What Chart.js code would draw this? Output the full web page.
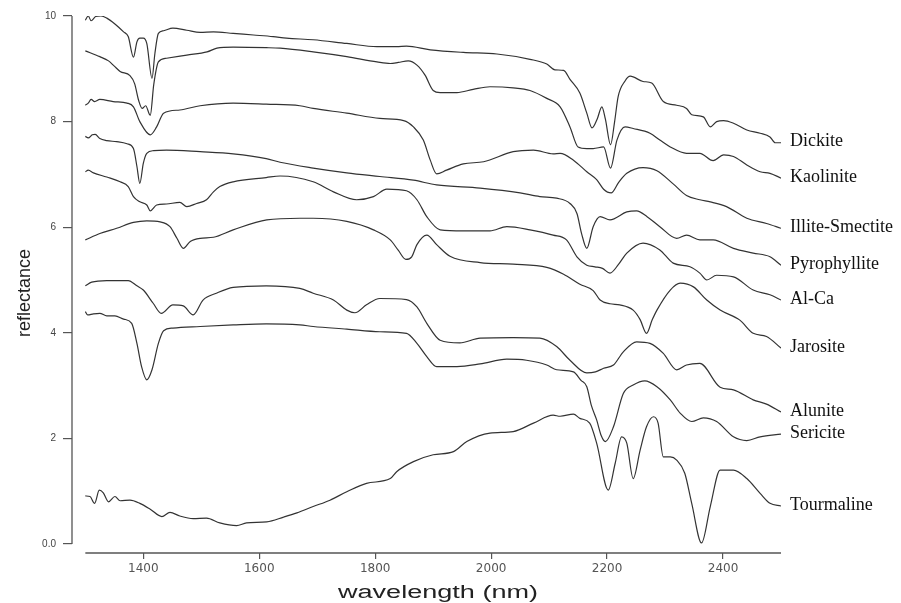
<!DOCTYPE html>
<html>
<head>
<meta charset="utf-8">
<script src="https://cdn.jsdelivr.net/npm/chart.js@4/dist/chart.umd.min.js"></script>
<style>
  html, body { margin: 0; padding: 0; background: #fff; }
  #wrap { width: 901px; height: 603px; }
</style>
</head>
<body>
<div id="wrap"><canvas id="c" width="901" height="603"></canvas></div>
<script>
// Espectros de reflectancia (desplazados verticalmente), leídos a ojo de la figura.
// Cada par es [longitud de onda nm, reflectancia].
const DICKITE = [[1300,9.92],[1305,10.0],[1310,9.91],[1318,9.99],[1327,10.0],[1337,9.96],[1351,9.85],[1366,9.70],[1374,9.61],[1383,9.22],[1389,9.51],[1394,9.58],[1400,9.58],[1406,9.48],[1415,8.82],[1420,9.29],[1426,9.67],[1435,9.72],[1451,9.77],[1475,9.73],[1498,9.69],[1521,9.70],[1555,9.67],[1590,9.64],[1624,9.61],[1647,9.58],[1693,9.55],[1751,9.48],[1803,9.42],[1837,9.42],[1854,9.43],[1895,9.36],[1952,9.31],[2010,9.28],[2067,9.18],[2096,9.09],[2110,8.98],[2125,8.97],[2136,8.80],[2153,8.54],[2165,8.16],[2174,7.88],[2183,8.05],[2191,8.28],[2197,8.05],[2206,7.56],[2213,8.0],[2219,8.47],[2231,8.77],[2240,8.86],[2262,8.76],[2277,8.73],[2297,8.38],[2320,8.31],[2337,8.25],[2346,8.13],[2366,8.09],[2378,7.90],[2389,8.0],[2401,8.02],[2418,7.97],[2441,7.84],[2464,7.78],[2481,7.71],[2490,7.60],[2500,7.60]];
const KAOLINITE = [[1300,9.34],[1325,9.23],[1340,9.15],[1350,9.05],[1360,8.95],[1377,8.87],[1385,8.72],[1392,8.40],[1398,8.25],[1404,8.30],[1412,8.12],[1418,8.70],[1426,9.13],[1440,9.20],[1475,9.26],[1510,9.32],[1527,9.39],[1555,9.41],[1612,9.40],[1636,9.39],[1693,9.32],[1751,9.23],[1803,9.13],[1826,9.10],[1840,9.12],[1857,9.15],[1872,9.07],[1886,8.88],[1900,8.59],[1912,8.55],[1941,8.55],[1969,8.61],[1998,8.66],[2038,8.64],[2067,8.59],[2096,8.44],[2119,8.28],[2136,7.90],[2150,7.52],[2165,7.49],[2176,7.49],[2194,7.52],[2206,7.12],[2217,7.65],[2231,7.90],[2245,7.87],[2274,7.78],[2291,7.65],[2309,7.52],[2337,7.40],[2360,7.40],[2383,7.26],[2401,7.37],[2418,7.34],[2441,7.18],[2464,7.05],[2481,7.02],[2500,6.93]];
const ILLITE_SMECTITE = [[1300,8.31],[1305,8.35],[1310,8.42],[1316,8.38],[1325,8.42],[1348,8.38],[1372,8.35],[1383,8.28],[1394,8.00],[1412,7.75],[1423,7.90],[1435,8.16],[1463,8.22],[1498,8.30],[1555,8.35],[1612,8.33],[1670,8.30],[1693,8.25],[1751,8.16],[1808,8.06],[1849,8.02],[1866,7.90],[1883,7.65],[1895,7.27],[1906,7.01],[1923,7.08],[1952,7.20],[1987,7.24],[2038,7.43],[2073,7.46],[2107,7.39],[2119,7.40],[2142,7.27],[2165,7.05],[2182,6.90],[2194,6.72],[2207,6.65],[2220,6.85],[2234,7.02],[2262,7.13],[2286,7.07],[2314,6.82],[2337,6.60],[2360,6.52],[2378,6.48],[2406,6.39],[2441,6.17],[2475,6.07],[2500,5.98]];
const PYROPHYLLITE = [[1300,7.72],[1305,7.69],[1312,7.75],[1317,7.76],[1325,7.68],[1337,7.64],[1354,7.62],[1372,7.58],[1383,7.49],[1389,7.15],[1394,6.83],[1400,7.21],[1406,7.40],[1418,7.45],[1440,7.46],[1498,7.43],[1555,7.39],[1612,7.30],[1636,7.23],[1693,7.12],[1751,7.03],[1808,6.96],[1866,6.89],[1906,6.80],[1981,6.74],[2050,6.65],[2084,6.58],[2113,6.55],[2136,6.45],[2148,6.26],[2156,5.88],[2165,5.60],[2176,6.01],[2188,6.20],[2205,6.14],[2234,6.29],[2251,6.31],[2269,6.20],[2291,6.01],[2320,5.79],[2337,5.85],[2360,5.76],[2383,5.76],[2418,5.60],[2452,5.51],[2481,5.44],[2500,5.28]];
const AL_CA = [[1300,7.05],[1305,7.08],[1314,7.03],[1337,6.95],[1360,6.86],[1374,6.77],[1383,6.58],[1394,6.48],[1406,6.42],[1412,6.31],[1423,6.42],[1440,6.44],[1463,6.47],[1475,6.39],[1492,6.45],[1509,6.52],[1521,6.67],[1532,6.77],[1555,6.86],[1612,6.94],[1636,6.97],[1693,6.86],[1728,6.67],[1768,6.52],[1797,6.58],[1820,6.72],[1854,6.69],[1872,6.52],[1889,6.20],[1912,5.95],[1952,5.93],[1998,5.93],[2027,6.01],[2067,5.95],[2107,5.85],[2130,5.76],[2148,5.44],[2165,5.28],[2179,5.25],[2192,5.22],[2205,5.13],[2220,5.30],[2234,5.51],[2262,5.70],[2291,5.57],[2314,5.32],[2343,5.25],[2360,5.13],[2372,5.00],[2389,5.09],[2418,5.06],[2452,4.81],[2481,4.72],[2500,4.62]];
const JAROSITE = [[1300,5.76],[1325,5.88],[1354,5.98],[1383,6.09],[1406,6.12],[1429,6.10],[1446,6.01],[1458,5.79],[1469,5.60],[1481,5.73],[1498,5.79],[1521,5.81],[1555,5.95],[1613,6.14],[1670,6.17],[1693,6.17],[1751,6.11],[1797,5.95],[1826,5.76],[1840,5.56],[1853,5.39],[1863,5.44],[1872,5.67],[1889,5.85],[1906,5.67],[1929,5.45],[1981,5.33],[2038,5.30],[2096,5.24],[2125,5.11],[2153,4.92],[2176,4.80],[2188,4.62],[2205,4.55],[2222,4.53],[2245,4.43],[2257,4.25],[2268,3.99],[2278,4.25],[2286,4.43],[2309,4.81],[2326,4.94],[2349,4.87],[2372,4.62],[2395,4.43],[2429,4.24],[2452,3.99],[2475,3.93],[2500,3.71]];
const ALUNITE = [[1300,4.89],[1311,4.96],[1337,4.99],[1374,4.99],[1389,4.89],[1400,4.81],[1417,4.56],[1431,4.37],[1451,4.53],[1469,4.51],[1486,4.34],[1503,4.62],[1526,4.75],[1555,4.86],[1612,4.89],[1670,4.84],[1693,4.75],[1728,4.62],[1751,4.43],[1765,4.38],[1785,4.53],[1808,4.65],[1854,4.63],[1872,4.49],[1889,4.18],[1912,3.86],[1946,3.81],[1981,3.90],[2038,3.91],[2084,3.90],[2113,3.74],[2136,3.48],[2165,3.24],[2180,3.26],[2194,3.33],[2211,3.39],[2228,3.64],[2251,3.83],[2274,3.80],[2297,3.61],[2320,3.30],[2337,3.39],[2360,3.42],[2395,2.97],[2418,2.92],[2452,2.73],[2475,2.65],[2500,2.50]];
const SERICITE = [[1300,4.40],[1304,4.34],[1314,4.36],[1325,4.37],[1337,4.32],[1351,4.32],[1366,4.26],[1380,4.18],[1389,3.80],[1397,3.36],[1406,3.11],[1415,3.30],[1426,3.80],[1435,4.04],[1451,4.09],[1498,4.12],[1555,4.15],[1612,4.17],[1670,4.15],[1693,4.12],[1751,4.07],[1808,4.02],[1854,3.99],[1872,3.80],[1889,3.55],[1906,3.36],[1941,3.36],[1981,3.41],[2027,3.50],[2061,3.48],[2096,3.39],[2113,3.30],[2142,3.26],[2155,3.10],[2165,2.98],[2173,2.62],[2182,2.35],[2190,2.05],[2197,1.94],[2211,2.22],[2228,2.85],[2245,3.01],[2265,3.09],[2286,2.98],[2309,2.73],[2326,2.48],[2346,2.32],[2366,2.39],[2389,2.32],[2418,2.03],[2441,1.96],[2464,2.03],[2500,2.08]];
const TOURMALINE = [[1300,0.91],[1308,0.90],[1316,0.77],[1324,1.02],[1331,0.97],[1340,0.80],[1351,0.90],[1360,0.82],[1377,0.83],[1394,0.77],[1412,0.66],[1432,0.52],[1446,0.60],[1463,0.53],[1486,0.48],[1509,0.49],[1532,0.40],[1561,0.35],[1578,0.40],[1613,0.42],[1642,0.51],[1665,0.59],[1693,0.71],[1722,0.83],[1751,0.99],[1785,1.15],[1826,1.24],[1837,1.37],[1866,1.56],[1900,1.69],[1935,1.75],[1958,1.94],[1998,2.10],[2038,2.13],[2073,2.29],[2107,2.44],[2119,2.42],[2142,2.46],[2153,2.38],[2170,2.29],[2182,1.91],[2202,1.02],[2214,1.53],[2225,2.03],[2234,1.91],[2245,1.24],[2257,1.78],[2268,2.22],[2280,2.41],[2288,2.29],[2297,1.65],[2309,1.65],[2320,1.59],[2334,1.34],[2346,0.77],[2363,0.02],[2378,0.71],[2395,1.40],[2418,1.40],[2441,1.24],[2464,0.96],[2481,0.77],[2500,0.72]];

const SERIES_NAMES = ['Dickite', 'Kaolinite', 'Illite-Smectite', 'Pyrophyllite', 'Al-Ca', 'Jarosite', 'Alunite', 'Sericite', 'Tourmaline'];
const SERIES_DATA = [DICKITE, KAOLINITE, ILLITE_SMECTITE, PYROPHYLLITE, AL_CA, JAROSITE, ALUNITE, SERICITE, TOURMALINE];
const X_TICKS = [1400, 1600, 1800, 2000, 2200, 2400];
const Y_TICKS = [0, 2, 4, 6, 8, 10];
const X_RANGE = [1300, 2500];
const Y_RANGE = [0, 10];

const LINE_COLOR = '#333';
const AXIS_COLOR = '#555';

// Ejes "estilo R": líneas separadas del área de datos, rótulos a la derecha.
const frame = {
  id: 'frame',
  afterDraw(chart) {
    const { ctx, chartArea, scales: { x, y } } = chart;
    ctx.save();
    ctx.strokeStyle = AXIS_COLOR;
    ctx.lineWidth = 1.3;
    ctx.beginPath();
    ctx.moveTo(chartArea.left, y.getPixelForValue(Y_RANGE[0]));
    ctx.lineTo(chartArea.left, y.getPixelForValue(Y_RANGE[1]));
    ctx.moveTo(x.getPixelForValue(X_RANGE[0]), chartArea.bottom);
    ctx.lineTo(x.getPixelForValue(X_RANGE[1]), chartArea.bottom);
    ctx.stroke();

    // nombres al final de cada curva
    ctx.fillStyle = '#111';
    ctx.font = '18px "Liberation Serif", "Times New Roman", serif';
    ctx.textBaseline = 'middle';
    ctx.textAlign = 'left';
    chart.data.datasets.forEach((ds, i) => {
      const pts = chart.getDatasetMeta(i).data;
      const last = pts[pts.length - 1];
      ctx.fillText(ds.label, chartArea.right + 9, last.y - 1);
    });

    // títulos de ejes
    ctx.fillStyle = '#222';
    ctx.font = '18px "Liberation Sans", Arial, sans-serif';
    ctx.textAlign = 'center';
    ctx.save();
    ctx.translate(25, 293);
    ctx.rotate(-Math.PI / 2);
    ctx.fillText('reflectance', 0, 0);
    ctx.restore();

    const xt = 'wavelength (nm)';
    ctx.textBaseline = 'alphabetic';
    const w = ctx.measureText(xt).width;
    ctx.translate(438, 598);
    ctx.scale(200 / w, 1);
    ctx.fillText(xt, 0, 0);
    ctx.restore();
  }
};

new Chart(document.getElementById('c'), {
  type: 'line',
  data: {
    datasets: SERIES_DATA.map((pts, i) => ({
      label: SERIES_NAMES[i],
      data: pts.map(([nm, r]) => ({ x: nm, y: r })),
      borderColor: LINE_COLOR,
      borderWidth: 1.2,
      pointRadius: 0,
      fill: false,
      cubicInterpolationMode: 'monotone',
    })),
  },
  options: {
    responsive: false,
    devicePixelRatio: 1,
    animation: false,
    layout: { padding: { top: 16, right: 120, left: 0, bottom: 0 } },
    plugins: { legend: { display: false }, tooltip: { enabled: false } },
    scales: {
      x: {
        type: 'linear',
        min: 1277,
        max: 2500,
        afterBuildTicks: (s) => { s.ticks = X_TICKS.map((v) => ({ value: v })); },
        afterFit: (s) => { s.height = 50; },
        grid: { drawOnChartArea: false, drawTicks: true, tickLength: 6, color: AXIS_COLOR, lineWidth: 1.2 },
        border: { display: false },
        ticks: {
          maxRotation: 0,
          autoSkip: false,
          padding: 3,
          color: '#555',
          font: { family: '"DejaVu Sans", sans-serif', size: 12 },
          callback: (v) => String(v),
        },
      },
      y: {
        min: -0.17,
        max: 10,
        afterBuildTicks: (s) => { s.ticks = Y_TICKS.map((v) => ({ value: v })); },
        afterFit: (s) => { s.width = 72; },
        grid: { drawOnChartArea: false, drawTicks: true, tickLength: 9, color: AXIS_COLOR, lineWidth: 1.2 },
        border: { display: false },
        ticks: {
          padding: 7,
          color: '#444',
          font: { family: '"Liberation Sans", Arial, sans-serif', size: 10 },
          callback: (v) => (v === 0 ? '0.0' : String(v)),
        },
      },
    },
  },
  plugins: [frame],
});
</script>
</body>
</html>
